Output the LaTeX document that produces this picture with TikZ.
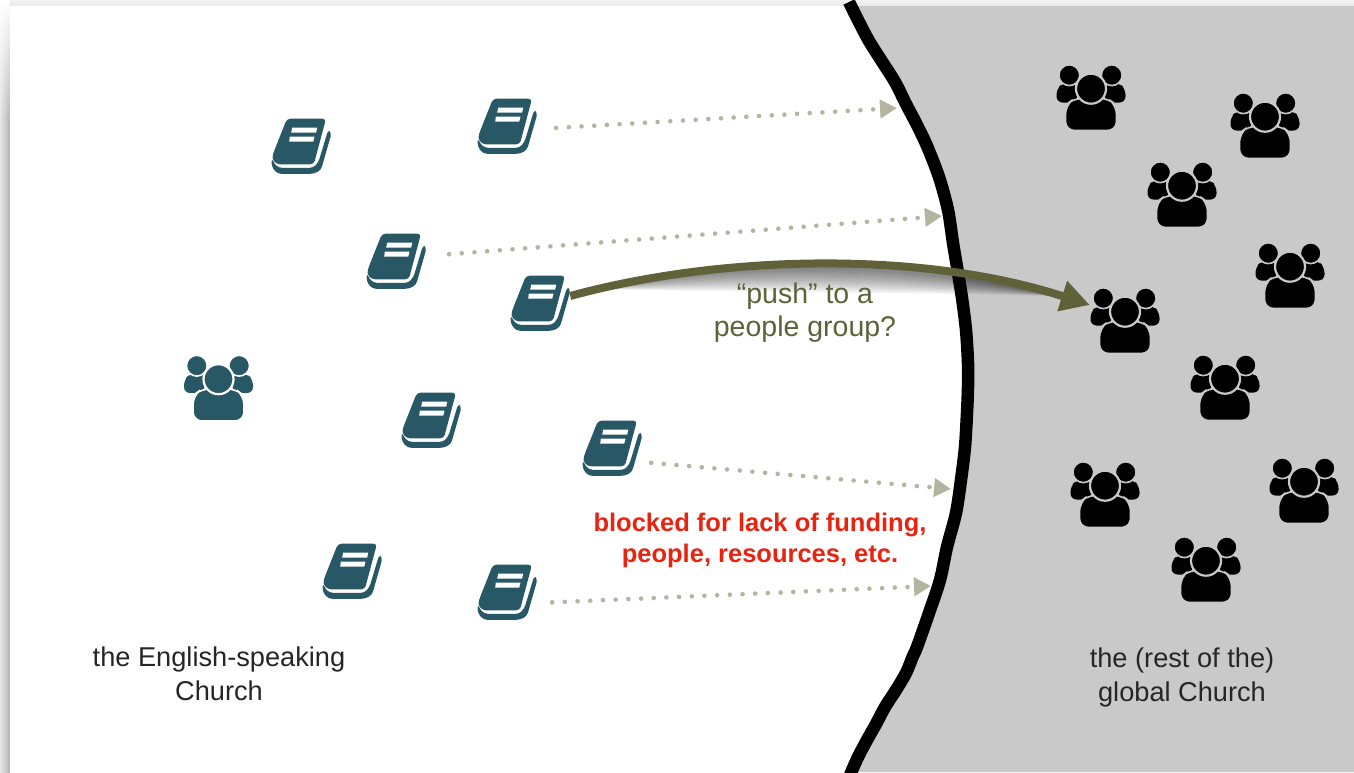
\documentclass[tikz,border=0pt]{standalone}
\usepackage{fontspec}
\setmainfont{Liberation Sans}
\usetikzlibrary{positioning,calc}
\usetikzlibrary{arrows.meta,fadings}
\definecolor{BookTeal}{RGB}{40,88,102}
\definecolor{PushOlive}{RGB}{95,97,57}
\definecolor{DotKhaki}{RGB}{180,181,160}
\definecolor{GlobalGray}{RGB}{201,201,201}
\definecolor{BlockRed}{RGB}{232,35,15}
\tikzset{
  iconbox/.style={inner sep=0pt,minimum width=60pt,minimum height=55pt},
  crowdbox/.style={inner sep=0pt,minimum width=70pt,minimum height=64pt},
  dotarrow/.style={draw=DotKhaki,line width=4.6pt,line cap=round,dash pattern=on 0pt off 12.7pt,
    -{Triangle[length=17pt,width=18pt,fill=DotKhaki]}},
  pusharrow/.style={draw=PushOlive,line width=8pt,-{Triangle[length=29pt,width=30pt,fill=PushOlive]}},
  lab/.style={font=\fontsize{27.2}{34}\selectfont,align=center,inner sep=0pt,text=black!85},
  pushlab/.style={lab,font=\fontsize{28.5}{33}\selectfont,text=PushOlive},
  blocklab/.style={lab,font=\fontsize{25.5}{31}\selectfont\bfseries,text=BlockRed},
  pics/book/.style={code={
    \fill[BookTeal,rounded corners=3.5pt] (-14,-27.3)--(25,-27.3)--(12.8,18.3)--(-24.5,18.3)--(-29.3,12.3)--(-26.5,4)--cycle;
    \fill[BookTeal,rounded corners=3.5pt] (-29.3,12)--(-29.3,21)--(-23.5,27.8)--(12.8,27.8)--(20,24)--(30.5,-12.7)--(27.3,-16.5)
      --(17.5,16)--(12.5,21.8)--(-22.5,21.8)--(-26.5,18)--cycle;
    \fill[white] (-8.8,-18.3)--(16.2,-18.3)--(15.2,-13.3)--(-9.8,-13.3)--cycle;
    \fill[white] (-11.2,-9.3)--(13.5,-9.3)--(12.2,-4.3)--(-11.8,-4.3)--cycle;
  }},
  pics/crowd/.style 2 args={code={
    \fill[#1,rounded corners=6pt] (-28,-15)--(-34.5,-9)--(-34.5,4.5)--(-14,4.5)--(-14,-15)--cycle;
    \fill[#1,rounded corners=6pt] (28,-15)--(34.5,-9)--(34.5,4.5)--(14,4.5)--(14,-15)--cycle;
    \filldraw[fill=#1,draw=#2,line width=1.6pt] (-21.7,-22.8) circle (10.4);
    \filldraw[fill=#1,draw=#2,line width=1.6pt] (20.7,-22.8) circle (10.4);
    \filldraw[fill=#1,draw=#2,line width=1.6pt,rounded corners=9pt] (-25.5,32.5)--(-25.5,7)--(-16,0)--(16,0)--(25.5,7)--(25.5,32.5)--cycle;
    \filldraw[fill=#1,draw=#2,line width=2.2pt] (0,-9.3) circle (15);
  }},
}

\begin{document}
\begin{tikzpicture}[x=1pt,y=-1pt]
\useasboundingbox (0,0) rectangle (1354,772);
% page edge
\shade[top color=black!5,bottom color=black!9] (0,0) rectangle (1354,6);
\shade[left color=black!10,right color=black!30] (0,0) rectangle (10,772);
\fill[white,path fading=south] (0,0) rectangle (10,120);
\fill[white] (10,6) rectangle (860,772);
% the wall
\fill[GlobalGray] (851,6)--(868,40)--(882,60)--(897,80)--(909,110)--(927,143)--(939,177)--(948,210)--(957,267)--(966,330)--(968,387)--(965,447)
  --(956,513)--(940,580)--(917,647)--(906,673)--(885,707)--(867,740)--(852,772)--(1354,772)--(1354,6)--cycle;
\draw[black,line width=12.5pt,line join=round] plot[smooth,tension=.5] coordinates {(849,2)(860,24)(869,41)(881,60)(895,82)(906,104)(917,125)
  (927,146)(939,177)(948,210)(953,243)(957,267)(962,298)(966,330)(968,363)(968,387)(967,413)(965,447)(961,480)(956,513)(947,547)(940,580)(929,613)
  (917,647)(913,656)(906,673)(896,690)(885,707)(876,724)(867,740)(858,757)(850,775)};
% books
\foreach \nm/\px/\py in {bka/301/146,bkb/507/126,bkc/396/261,bkm/540/303,bkd/431/420,bke/612/448,bkf/352/571,bkg/507/592}{
  \node[iconbox] (\nm) at (\px,\py) {};
  \pic at (\nm) {book};
}
% the crowds
\node[crowdbox] (homec) at (218.5,388.5) {};
\pic at (homec) {crowd={BookTeal}{white}};
\foreach \nm/\px/\py in {pga/1091/98,pgb/1265/126,pgc/1182/195,pgd/1290/276,pge/1125/321,pgf/1225/388,pgg/1105/495,pgh/1304/491,pgi/1206/570}{
  \node[crowdbox] (\nm) at (\px,\py) {};
  \pic at (\nm) {crowd={black}{GlobalGray}};
}
% dotted pushes that stop at the wall
\coordinate (tipb) at (897,108);
\coordinate (tipc) at (942,216);
\coordinate (tipe) at (951,489);
\coordinate (tipg) at (931,586);
\draw[dotarrow,shorten <=19pt] ([yshift=-3pt]bkb.east)--(tipb);
\draw[dotarrow,shorten <=23pt] ([yshift=5pt]bkc.east)--(tipc);
\draw[dotarrow,shorten <=9pt] ([yshift=-14pt]bke.east)--(tipe);
\draw[dotarrow,shorten <=15pt] ([yshift=-11pt]bkg.east)--(tipg);
% the one that gets through
\foreach \sk in {0,...,10}{
  \fill[black,opacity=.055] (600,289) .. controls (720,255) and (920,250) .. (1055,296)
    .. controls (900,{262+3*\sk}) and (720,{262+3*\sk}) .. cycle;
}
\draw[pusharrow] ([yshift=7pt]bkm.east) .. controls (720,255) and (920,250) .. ([yshift=16pt]pge.west);
% labels
\node[lab] (homelab) at (219,674) {the English-speaking\\Church};
\node[lab] (globlab) at (1182,677) {the (rest of the)\\global Church};
\node[pushlab] (pushtxt) at (805,313) {“push” to a\\people group?};
\node[blocklab] (blocktxt) at (760,540) {blocked for lack of funding,\\people, resources, etc.};
\end{tikzpicture}
\end{document}
